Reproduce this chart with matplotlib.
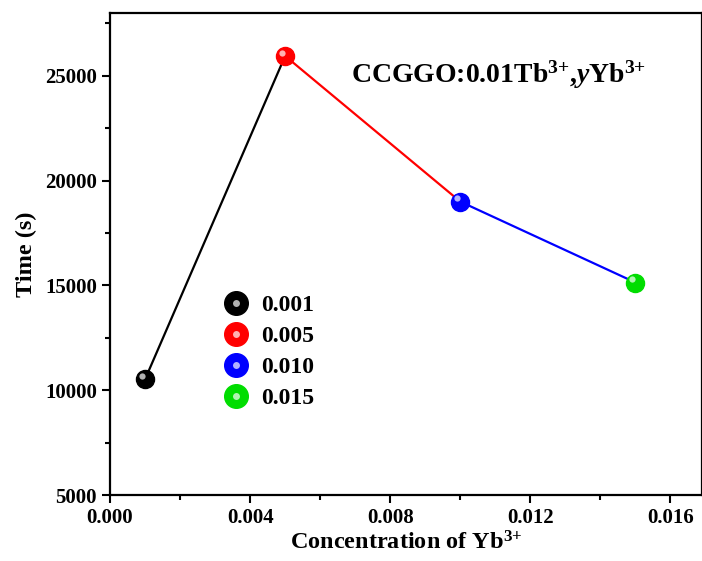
import matplotlib
matplotlib.use("Agg")
import matplotlib.pyplot as plt
from matplotlib.lines import Line2D
from matplotlib import transforms

# datos
conc = [0.001, 0.005, 0.010, 0.015]
tiempo = [10520, 25950, 19000, 15140]
colores = ["#000000", "#ff0000", "#0000ff", "#00dd00"]
etiquetas = ["0.001", "0.005", "0.010", "0.015"]

plt.rcParams["font.family"] = "Liberation Serif"
plt.rcParams["font.weight"] = "bold"
plt.rcParams["axes.labelweight"] = "bold"
plt.rcParams["mathtext.fontset"] = "custom"
plt.rcParams["mathtext.rm"] = "Liberation Serif:bold"
plt.rcParams["mathtext.it"] = "Liberation Serif:bold:italic"
plt.rcParams["mathtext.bf"] = "Liberation Serif:bold"

fig = plt.figure(figsize=(7.02, 5.61), dpi=100)
ax = fig.add_axes([0.1567, 0.1176, 0.8433, 0.8592])

# segmentos coloreados segun el punto de inicio
for i in range(len(conc) - 1):
    ax.plot(conc[i:i + 2], tiempo[i:i + 2], "-", color=colores[i], lw=1.6, zorder=2)

# esferas con brillo
brillo = transforms.offset_copy(ax.transData, fig=fig, x=-2.5, y=2.5, units="points")
for x, y, c in zip(conc, tiempo, colores):
    ax.plot(x, y, "o", ms=13, color=c, mec=c, zorder=3)
    ax.plot(x, y, "o", ms=4.5, color="white", mec="none", alpha=0.7, zorder=4,
            transform=brillo)

# leyenda
handles = []
for c in colores:
    h1 = Line2D([], [], ls="none", marker="o", ms=17, color=c, mec=c)
    h2 = Line2D([], [], ls="none", marker="o", ms=5, color="white", mec="none", alpha=0.7)
    handles.append((h1, h2))
ax.legend(handles, etiquetas, loc="upper left", bbox_to_anchor=(0.175, 0.435),
          frameon=False, fontsize=17, handlelength=1.1, handletextpad=0.5,
          labelspacing=0.4, borderaxespad=0)

ax.text(0.657, 0.872, r"CCGGO:0.01Tb$^{3{+}}$,$\mathit{y}$Yb$^{3{+}}$",
        transform=ax.transAxes, ha="center", va="center", fontsize=20)

ax.set_xlim(0, 0.0169)
ax.set_ylim(5000, 28000)
ax.set_xticks([0.000, 0.004, 0.008, 0.012, 0.016])
ax.set_xticks([0.002, 0.006, 0.010, 0.014], minor=True)
ax.set_yticks([5000, 10000, 15000, 20000, 25000])
ax.set_yticks([7500, 12500, 17500, 22500, 27500], minor=True)
ax.xaxis.set_major_formatter(matplotlib.ticker.FormatStrFormatter("%.3f"))
ax.tick_params(which="major", direction="out", length=6, width=1.5, labelsize=15)
ax.tick_params(which="minor", direction="out", length=3.5, width=1.5)
for s in ax.spines.values():
    s.set_linewidth(1.6)

ax.set_xlabel("Concentration of Yb$^{3{+}}$", fontsize=17.5, labelpad=2)
ax.set_ylabel("Time (s)", fontsize=17.5, labelpad=6)

fig.savefig("out.png", dpi=100)
